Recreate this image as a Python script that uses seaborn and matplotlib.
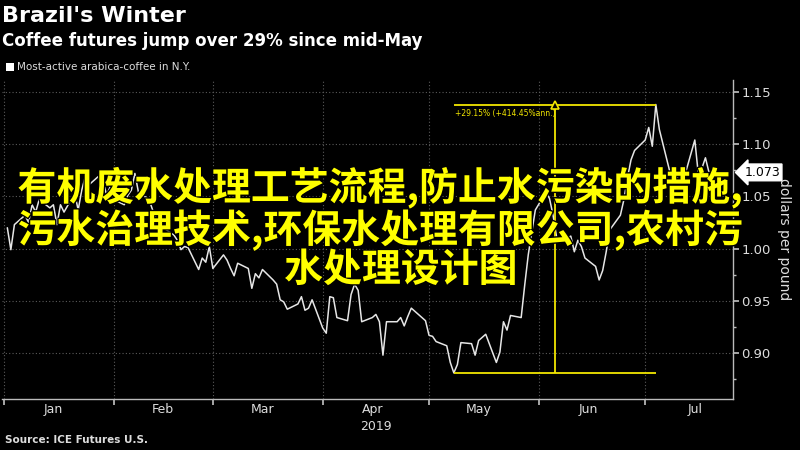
import pandas as pd
import matplotlib.pyplot as plt
import matplotlib.dates as mdates
import matplotlib.patheffects as pe
from matplotlib.ticker import MultipleLocator, NullFormatter
import seaborn as sns

# most-active arabica coffee, dollars per pound, trading days 2019
jan = [1.020, 0.999, 1.023, 1.032, 1.025, 1.042, 1.035, 1.047, 1.039, 1.042, 1.023,
       1.042, 1.035, 1.053, 1.037, 1.056, 1.069, 1.061, 1.070, 1.066, 1.051, 1.059]
feb = [1.047, 1.042, 1.051, 1.056, 1.072, 1.054, 1.047, 1.037, 1.029, 1.025,
       1.020, 1.013, 1.008, 0.999, 1.002, 1.001, 0.980, 0.991, 0.987, 1.002]
mar = [0.981, 0.994, 0.989, 0.981, 0.974, 0.986, 0.981, 0.962, 0.976, 0.972, 0.980,
       0.970, 0.966, 0.951, 0.949, 0.942, 0.947, 0.954, 0.941, 0.943, 0.951]
apr = [0.924, 0.919, 0.954, 0.953, 0.934, 0.931, 0.956, 0.966, 0.960, 0.930, 0.934,
       0.937, 0.930, 0.898, 0.930, 0.930, 0.934, 0.926, 0.935, 0.943, 0.934, 0.931]
may = [0.917, 0.916, 0.911, 0.907, 0.891, 0.881, 0.889, 0.910, 0.909, 0.898, 0.912, 0.915,
       0.918, 0.891, 0.901, 0.930, 0.922, 0.936, 0.934, 0.965, 0.994, 1.016, 1.037]
jun = [1.054, 1.048, 1.032, 1.011, 1.006, 1.012, 0.997, 1.008, 1.002, 0.991,
       0.983, 0.970, 0.979, 0.997, 1.018, 1.032, 1.047, 1.068, 1.085, 1.094]
jul = [1.104, 1.116, 1.098, 1.138, 1.114, 1.073, 1.075, 1.068, 1.073, 1.068,
       1.104, 1.071, 1.077, 1.087, 1.073]

prices = jan + feb + mar + apr + may + jun + jul
dates = pd.bdate_range("2019-01-02", periods=len(prices))
df = pd.DataFrame({"date": dates, "price": prices})

y_ticks = [0.90, 0.95, 1.00, 1.05, 1.10, 1.15]
change_label = "+29.15% (+414.45%ann.)"
overlay_lines = ["有机废水处理工艺流程,防止水污染的措施,",
                 "污水治理技术,环保水处理有限公司,农村污",
                 "水处理设计图"]

sns.set_theme(style="dark")
plt.rcParams.update({
    "figure.facecolor": "black",
    "axes.facecolor": "black",
    "savefig.facecolor": "black",
    "text.color": "white",
})
plt.rcParams["font.family"] = ["DejaVu Sans", "Noto Sans CJK SC"]

fig = plt.figure(figsize=(8, 4.5), dpi=100)
ax = fig.add_axes([0.0025, 0.1133, 0.914, 0.709])

sns.lineplot(data=df, x="date", y="price", color="#e6e6e6", linewidth=1.1, ax=ax)

ax.set_xlim(pd.Timestamp("2018-12-31 12:00"), pd.Timestamp("2019-07-25 20:00"))
ax.set_ylim(0.856, 1.1615)

# grid + spines
ax.grid(True, which="major", color="#5a5a5a", linestyle=(0, (1, 2)), linewidth=0.8)
for side in ["left", "top"]:
    ax.spines[side].set_visible(False)
for side in ["bottom", "right"]:
    ax.spines[side].set_visible(True)
    ax.spines[side].set_color("#bbbbbb")
    ax.spines[side].set_linewidth(1.0)

# x axis: ticks at month start, labels mid-month
ax.xaxis.set_major_locator(mdates.MonthLocator())
ax.xaxis.set_major_formatter(NullFormatter())
ax.xaxis.set_minor_locator(mdates.MonthLocator(bymonthday=15))
ax.xaxis.set_minor_formatter(mdates.DateFormatter("%b"))
ax.tick_params(axis="x", which="major", length=4, color="#bbbbbb", direction="out", bottom=True)
ax.tick_params(axis="x", which="minor", length=0, labelsize=9, labelcolor="#dddddd", pad=3)
ax.set_xlabel("")
ax.text(pd.Timestamp("2019-04-16"), -0.085, "2019", transform=ax.get_xaxis_transform(),
        ha="center", va="center", fontsize=9, color="#dddddd")

# y axis on the right
ax.yaxis.tick_right()
ax.yaxis.set_label_position("right")
ax.set_yticks(y_ticks)
ax.set_yticklabels([f"{t:.2f}" for t in y_ticks])
ax.yaxis.set_minor_locator(MultipleLocator(0.025))
ax.tick_params(axis="y", which="major", length=4, color="#bbbbbb", direction="out",
               right=True, left=False, labelsize=9.5, labelcolor="#dddddd", pad=2)
ax.tick_params(axis="y", which="minor", length=2, color="#bbbbbb", direction="out",
               right=True, left=False)
ax.set_ylabel("dollars per pound", rotation=270, labelpad=14, fontsize=10, color="#dddddd")

# last value tag
last = df.iloc[-1]
ax.annotate(f"{last['price']:.3f}", xy=(1.0, last["price"]),
            xycoords=ax.get_yaxis_transform(), xytext=(8, 0), textcoords="offset points",
            ha="left", va="center", fontsize=9, color="black",
            bbox=dict(boxstyle="larrow,pad=0.15", fc="white", ec="white"))

# low-to-high annotation
lo = df.loc[df["price"].idxmin()]
hi = df.loc[df["price"].idxmax()]
mid = lo["date"] + (hi["date"] - lo["date"]) / 2
yel = "#f2e600"
ax.hlines(hi["price"], lo["date"], hi["date"], color=yel, linewidth=1.3)
ax.hlines(lo["price"], lo["date"], hi["date"], color=yel, linewidth=1.3)
ax.vlines(mid, lo["price"], hi["price"], color=yel, linewidth=1.3)
ax.plot([mid], [hi["price"]], marker="^", markersize=6, markerfacecolor="black",
        markeredgecolor=yel, markeredgewidth=1.2, clip_on=False, linestyle="none")
ax.annotate(change_label, xy=(lo["date"], hi["price"]), xytext=(1, -3),
            textcoords="offset points", ha="left", va="top", fontsize=5.5, color=yel)

# header
fig.text(0.003, 0.965, "Brazil's Winter", fontsize=16, fontweight="bold", color="white",
         ha="left", va="center")
fig.text(0.003, 0.91, "Coffee futures jump over 29% since mid-May", fontsize=12,
         fontweight="bold", color="white", ha="left", va="center")
fig.patches.append(plt.Rectangle((0.007, 0.843), 0.01, 0.0178, transform=fig.transFigure,
                                 facecolor="white", edgecolor="none"))
fig.text(0.021, 0.851, "Most-active arabica-coffee in N.Y.", fontsize=7.5, color="#dddddd",
         ha="left", va="center")
fig.text(0.006, 0.022, "Source: ICE Futures U.S.", fontsize=7.5, fontweight="bold",
         color="#dddddd", ha="left", va="center")

# overlay caption
stroke = [pe.withStroke(linewidth=2, foreground="black")]
for txt, xc, yc in zip(overlay_lines, [0.475, 0.475, 0.501], [0.583, 0.489, 0.400]):
    fig.text(xc, yc, txt, fontsize=28, fontweight="bold", color="#ffff00",
             family=["Noto Sans CJK SC", "DejaVu Sans"], ha="center", va="center",
             path_effects=stroke)

fig.savefig("out.png", dpi=100)
